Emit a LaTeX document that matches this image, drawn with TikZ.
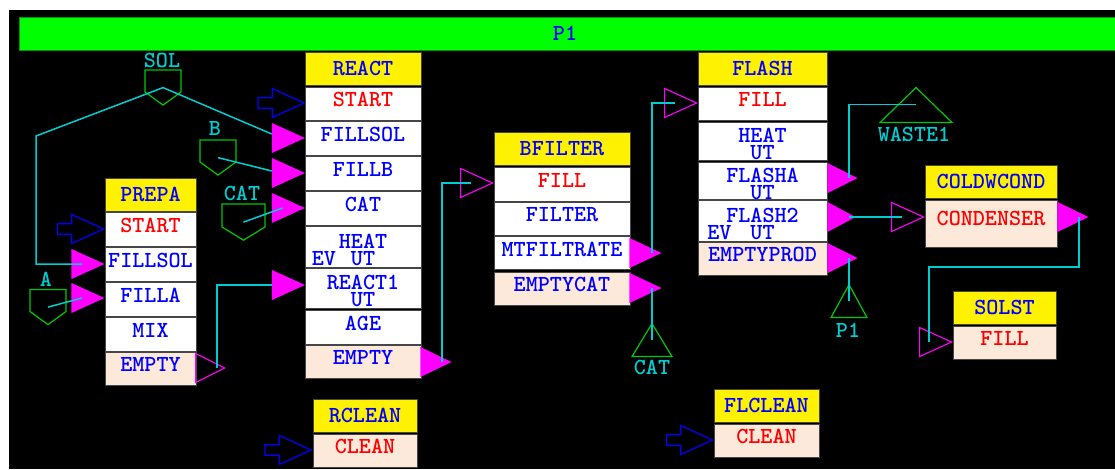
\documentclass[tikz,border=0pt]{standalone}
\usepackage{tikz}
\usetikzlibrary{shapes.geometric,shapes.arrows,shapes.symbols,calc}
\definecolor{wirec}{RGB}{0,205,210}
\definecolor{tankc}{RGB}{0,200,0}
\definecolor{portc}{RGB}{255,0,255}
\definecolor{barc}{RGB}{0,255,0}
\definecolor{lastc}{RGB}{253,233,217}
\definecolor{edgec}{RGB}{70,70,70}
\tikzset{
  cell/.style 2 args={rectangle,draw=edgec,fill=white,line width=0.9pt,minimum width=#1pt,minimum height=#2pt,inner sep=0pt,text=blue,
    font=\fontsize{23}{17}\selectfont\ttfamily\bfseries,text height=14pt,text depth=8pt},
  hd/.style={fill=yellow,text height=14pt,text depth=0pt},
  last/.style={fill=lastc},
  act/.style={text=red},
  two/.style={align=center,text height=37pt,text depth=0pt},
  solidtri/.style={isosceles triangle,isosceles triangle stretches,inner sep=0pt,minimum width=30pt,minimum height=33pt,fill=portc,anchor=apex},
  opentri/.style={solidtri,fill=none,draw=portc,line width=1.1pt,minimum width=29pt,minimum height=32pt},
  startarr/.style={single arrow,single arrow tip angle=49,inner sep=0pt,inner ysep=3.5pt,minimum height=46pt,minimum width=29pt,draw=blue,line width=1.2pt,anchor=tip},
  tank/.style={signal,signal to=south,signal pointer angle=108,inner sep=0pt,draw=tankc,line width=1.2pt,minimum width=36pt,minimum height=22pt},
  sink/.style 2 args={isosceles triangle,isosceles triangle stretches,shape border rotate=90,inner sep=0pt,minimum width=#1pt,minimum height=#2pt,draw=tankc,line width=1.2pt,anchor=apex},
  tag/.style={text=wirec,inner sep=0pt,font=\fontsize{23}{17}\selectfont\ttfamily\bfseries,text height=14pt,text depth=0pt},
  wire/.style={draw=wirec,line width=1.5pt}
}
\newcommand{\evut}[1]{\llap{EV\hspace{#1pt}}UT}

\begin{document}
\begin{tikzpicture}[x=1pt,y=-1pt]
\path[fill=white,use as bounding box] (0,0) rectangle (1115,469);
\fill[black] (9,10) rectangle (1115,469);
\node[cell={1097}{33},fill=barc,draw=green!60!black,text height=14pt,text depth=0pt] (titlebar) at (568,33.5) {P1\hspace*{6pt}};

% unit PREPA
\node[cell={91}{33},hd] (prepa) at (150.5,194.5) {PREPA};
\node[cell={91}{34},act] (pstart) at (150.5,229) {START};
\node[cell={91}{34}] (pfillsol) at (150.5,264) {FILLSOL};
\node[cell={91}{34}] (pfilla) at (150.5,299) {FILLA};
\node[cell={91}{34}] (pmix) at (150.5,334) {MIX};
\node[cell={91}{33},last] (pempty) at (150.5,368.5) {EMPTY};
% unit REACT
\node[cell={116}{33},hd] (react) at (363,68.5) {REACT};
\node[cell={116}{33},act] (rstart) at (363,103.5) {START};
\node[cell={116}{34}] (rfillsol) at (363,138) {FILLSOL};
\node[cell={116}{34}] (rfillb) at (363,173) {FILLB};
\node[cell={116}{34}] (rcat) at (363,208) {CAT};
\node[cell={116}{41},two] (rheat) at (363,246.5) {HEAT\\\evut{15}};
\node[cell={116}{40},two] (rreact) at (363,288) {REACT1\\UT};
\node[cell={116}{34}] (rage) at (363,327) {AGE};
\node[cell={116}{33},last] (rempty) at (363,361.5) {EMPTY};
% unit BFILTER
\node[cell={136}{33},hd] (bfilter) at (562,148.5) {BFILTER};
\node[cell={136}{34},act] (bfill) at (562,184) {FILL};
\node[cell={136}{33}] (bfilt) at (562,218.5) {FILTER};
\node[cell={136}{33}] (bmtf) at (562,253) {MTFILTRATE};
\node[cell={136}{33},last] (bemptycat) at (562,288.5) {EMPTYCAT};
% unit FLASH
\node[cell={129}{33},hd] (flash) at (762.5,68.5) {FLASH};
\node[cell={129}{33},act] (ffill) at (762.5,103.5) {FILL};
\node[cell={129}{38},two] (fheat) at (762.5,141) {HEAT\\UT};
\node[cell={129}{37},two] (fflasha) at (762.5,180.5) {FLASHA\\UT};
\node[cell={129}{41},two] (fflash2) at (762.5,220.5) {FLASH2\\\evut{19}};
\node[cell={129}{33},last] (femptyprod) at (762.5,258.5) {EMPTYPROD};
% single step units
\node[cell={132}{33},hd] (coldw) at (991,181.5) {COLDWCOND};
\node[cell={132}{47},last,act,text depth=11pt] (ccond) at (991,223.5) {CONDENSER};
\node[cell={103}{33},hd] (solst) at (1004.5,307.5) {SOLST};
\node[cell={103}{33},last,act] (sfill) at (1004.5,342.5) {FILL};
\node[cell={104}{33},hd] (rclean) at (365,415.5) {RCLEAN};
\node[cell={104}{33},last,act] (rcclean) at (365,450.5) {CLEAN};
\node[cell={105}{33},hd] (flclean) at (766.5,405.5) {FLCLEAN};
\node[cell={105}{33},last,act] (fcclean) at (766.5,440.5) {CLEAN};

% start arrows
\node[startarr] (pstartin) at (105,229) {};
\node[startarr] (rstartin) at (305.5,103) {};
\node[startarr] (rcleanin) at (312.5,450) {};
\node[startarr] (fcleanin) at (714,440) {};
% ports
\node[solidtri] (pfillsolin) at (105,264) {};
\node[solidtri] (pfillain) at (105,298) {};
\node[opentri,minimum height=29pt] (pemptyout) at (226,368) {};
\node[solidtri] (rfillsolin) at (305.5,138) {};
\node[solidtri] (rfillbin) at (305.5,173) {};
\node[solidtri] (rcatin) at (305.5,208) {};
\node[solidtri] (rreactin) at (305.5,285) {};
\node[solidtri,minimum height=31pt] (remptyout) at (452,362) {};
\node[opentri] (bfillin) at (494,183) {};
\node[solidtri,minimum height=32pt] (bmtfout) at (662,253) {};
\node[solidtri,minimum height=32pt] (bemptyout) at (662,288) {};
\node[opentri] (ffillin) at (698,103) {};
\node[solidtri,minimum height=30pt] (fflashaout) at (858,178) {};
\node[solidtri,minimum height=28pt] (fflash2out) at (856,217) {};
\node[solidtri,minimum height=30pt] (femptyout) at (858,258) {};
\node[opentri] (ccondin) at (925,217) {};
\node[solidtri,minimum height=31pt] (ccondout) at (1089,217) {};
\node[opentri] (sfillin) at (953,342) {};

% feeds and products
\node[tank] (soltank) at (163,81) {};
\node[tank] (btank) at (218,151) {};
\node[tank,minimum width=43pt,minimum height=23pt,signal pointer angle=117] (cattank) at (243.5,215.5) {};
\node[tank] (atank) at (48,300.5) {};
\node[sink={40}{33}] (catsink) at (652,322) {};
\node[sink={36}{33}] (p1sink) at (849,283) {};
\node[sink={72}{35}] (wastesink) at (916,86) {};
\node[tag] (soltag) at (162,60) {SOL};
\node[tag] (btag) at (215,128) {B};
\node[tag] (cattag) at (242,193) {CAT};
\node[tag] (atag) at (46,279) {A};
\node[tag] (catout) at (652,367) {CAT};
\node[tag] (p1out) at (848,330) {P1};
\node[tag] (wasteout) at (914,134) {WASTE1};

% connectors
\coordinate (solbend) at (36,136);
\coordinate (condbend) at (929,267);
\draw[wire] ($(soltank.north)!0.5!(soltank.south)$) -- (solbend) |- ([xshift=-23pt]pfillsolin.apex);
\draw[wire] ($(soltank.north)!0.5!(soltank.south)$) -- ([yshift=4pt]rfillsolin.lower side);
\draw[wire] ($(btank.north)!0.5!(btank.south)$) -- ([yshift=2pt]rfillbin.lower side);
\draw[wire] ($(cattank.north)!0.5!(cattank.south)$) -- ([xshift=-23pt]rcatin.apex);
\draw[wire] ($(atank.north)!0.5!(atank.south)$) -- ([xshift=-23pt]pfillain.apex);
\draw[wire] ([xshift=-9pt]pemptyout.apex) |- (rreactin.lower side);
\draw[wire] ([xshift=-10pt]remptyout.apex) |- ([xshift=-23pt]bfillin.apex);
\draw[wire] ([xshift=-10pt]bmtfout.apex) |- ([xshift=-23pt]ffillin.apex);
\draw[wire] ([xshift=-10pt]bemptyout.apex) -- ($(catsink.apex)!0.5!(catsink.lower side)$);
\draw[wire] ([xshift=-9pt]fflashaout.apex) |- ($(wastesink.apex)!0.5!(wastesink.lower side)$);
\draw[wire] ([xshift=-9pt]femptyout.apex) -- ($(p1sink.apex)!0.5!(p1sink.lower side)$);
\draw[wire] ([xshift=-7pt]fflash2out.apex) -- ([xshift=-23pt]ccondin.apex);
\draw[wire] ([xshift=-10pt]ccondout.apex) |- (condbend) -- ([xshift=-24pt]sfillin.apex);
\end{tikzpicture}
\end{document}
